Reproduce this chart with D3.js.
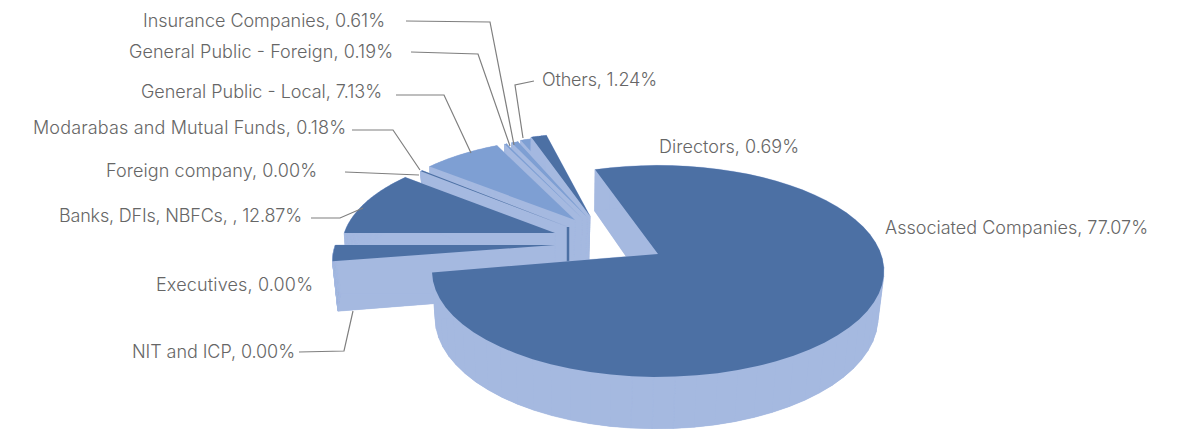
<!DOCTYPE html>
<html>
<head>
<meta charset="utf-8">
<script src="https://cdn.jsdelivr.net/npm/d3@7"></script>
<style>
  html, body { margin: 0; padding: 0; background: #fff; }
  text { font-family: Inter, sans-serif; font-size: 18px; font-weight: 300; fill: #666; }
</style>
</head>
<body>
<svg id="pie"></svg>
<script>
const width = 1187;
const height = 429;
const svg = d3.select("svg#pie").attr("width", width).attr("height", height);

// shareholding, clockwise from the main slice
const categories = ["Associated Companies", "NIT and ICP", "Executives", "Banks, DFIs, NBFCs, ", "Foreign company",
  "Modarabas and Mutual Funds", "General Public - Local", "General Public - Foreign", "Insurance Companies", "Others", "Directors"];
const shares = [77.07, 0, 0, 12.87, 0, 0.18, 7.13, 0.19, 0.61, 1.24, 0.69];

const dark = "#4c70a4", mid = "#7e9fd3", light = "#a5b9e0";

const deg = Math.PI / 180;
const firstAngle = -19 * deg;
const arcs = d3.pie().sort(null).value(d => d).startAngle(firstAngle).endAngle(firstAngle + 2 * Math.PI)(shares);

// perspective of the pie plane: k is the foreshortening, depth the height of the walls
const k = 0.162, depth = 47, shrink = 0.02;
const scaleU = d3.scaleLinear().domain([-1, 1]).range([-223, 223]);
const scaleV = d3.scaleLinear().domain([-1, 1]).range([-103, 103]);

function project(slice, angle, r, bottom) {
  const u = r * slice.scale * Math.sin(angle);
  const v = -r * slice.scale * Math.cos(angle);
  const w = 1 - k * v + (bottom ? shrink : 0);
  const nudge = slice.nudge != null ? slice.nudge : -1.5;
  return [
    slice.x + scaleU(u) / w + (bottom ? nudge : 0),
    slice.y + (scaleV(v) + (bottom ? depth + (slice.drop || 0) : 0)) / w
  ];
}

// where each exploded slice sits; turn nudges its angles, drawn back to front
const idx = name => categories.indexOf(name);
const placed = [
  { name: "Others", x: 590, y: 216, scale: 0.905, color: mid, turn: 3, drop: 10 },
  { name: "Directors", x: 590, y: 216, scale: 0.925, color: dark, turn: 0, from: 341, to: 346, drop: 10 },
  { name: "Insurance Companies", x: 587, y: 217, scale: 0.9, color: mid, turn: 3, drop: 10 },
  { name: "General Public - Foreign", x: 582, y: 218, scale: 0.9, color: mid, turn: 3, drop: 10 },
  { name: "General Public - Local", x: 575, y: 220, scale: 0.91, color: mid, turn: 3, drop: 10 },
  { name: "Modarabas and Mutual Funds", x: 568, y: 227, scale: 0.935, color: dark, turn: 4.5, drop: 10, stripe: true, nudge: 0 },
  { name: "Banks, DFIs, NBFCs, ", x: 555, y: 233, scale: 0.945, color: dark, turn: 4, from: 270 },
  { name: "Banks, DFIs, NBFCs, ", x: 555, y: 245, scale: 0.985, color: dark, turn: 0, from: 261, to: 270, drop: 3, nudge: 1 },
  { name: "Associated Companies", x: 658, y: 254, scale: 1, color: dark, turn: 0, to: 260 }
];

const line = d3.line();
const g = svg.append("g").attr("id", "slices");

placed.forEach(function(slice) {
  const a = arcs[idx(slice.name)];
  let a0 = a.startAngle + slice.turn * deg;
  let a1 = a.endAngle + slice.turn * deg;
  if (slice.from != null) a0 = slice.from * deg;
  if (slice.to != null) a1 = slice.to * deg;

  const angles = d3.range(0, 61).map(i => a0 + (a1 - a0) * i / 60);
  const top = [project(slice, 0, 0, false)].concat(angles.map(t => project(slice, t, 1, false)));
  const bottom = [project(slice, 0, 0, true)].concat(angles.map(t => project(slice, t, 1, true)));

  // walls: bottom face plus one quad per edge of the outline, all the same colour
  const walls = g.append("g");
  walls.append("path").attr("d", line(bottom) + "Z").attr("fill", light);
  top.forEach(function(p, i) {
    const j = (i + 1) % top.length;
    walls.append("path")
      .attr("d", line([p, top[j], bottom[j], bottom[i]]) + "Z")
      .attr("fill", light)
      .attr("stroke", light)
      .attr("stroke-width", 0.5);
  });
  if (slice.stripe) {
    walls.append("path")
      .attr("d", line([top[0], bottom[0]]))
      .attr("stroke", dark)
      .attr("stroke-width", 2.5);
  }
  g.append("path").attr("d", line(top) + "Z").attr("fill", slice.color);
});

// leader lines
const leaders = [
  [[406, 21], [490, 22], [514, 145]],
  [[411, 52], [478, 54], [510, 146]],
  [[396, 95], [444, 95], [471, 153]],
  [[352, 130], [393, 130], [420, 170]],
  [[345, 172], [419, 175]],
  [[311, 218], [340, 218], [363, 208]],
  [[534, 81], [515, 85], [523, 138]],
  [[299, 352], [344, 351], [353, 311]]
];
svg.append("g").attr("id", "leaders").selectAll("path")
  .data(leaders).enter().append("path")
  .attr("d", d => line(d))
  .attr("fill", "none")
  .attr("stroke", "#7f7f7f")
  .attr("stroke-width", 1.2);

// data labels: left edge, baseline, width
const labelAt = {
  "Insurance Companies": [143, 27, 242],
  "General Public - Foreign": [129, 58, 264],
  "General Public - Local": [141, 98, 241],
  "Modarabas and Mutual Funds": [33, 134, 313],
  "Foreign company": [106, 177, 211],
  "Banks, DFIs, NBFCs, ": [59, 222, 243],
  "Executives": [156, 291, 157],
  "NIT and ICP": [132, 358, 163],
  "Others": [542, 86, 115],
  "Directors": [659, 153, 140],
  "Associated Companies": [885, 234, 263]
};
svg.append("g").attr("id", "labels").selectAll("text")
  .data(categories).enter().append("text")
  .attr("x", d => labelAt[d][0])
  .attr("y", d => labelAt[d][1])
  .attr("textLength", d => labelAt[d][2])
  .attr("lengthAdjust", "spacing")
  .text((d, i) => d + ", " + d3.format(".2f")(shares[i]) + "%");
</script>
</body>
</html>
